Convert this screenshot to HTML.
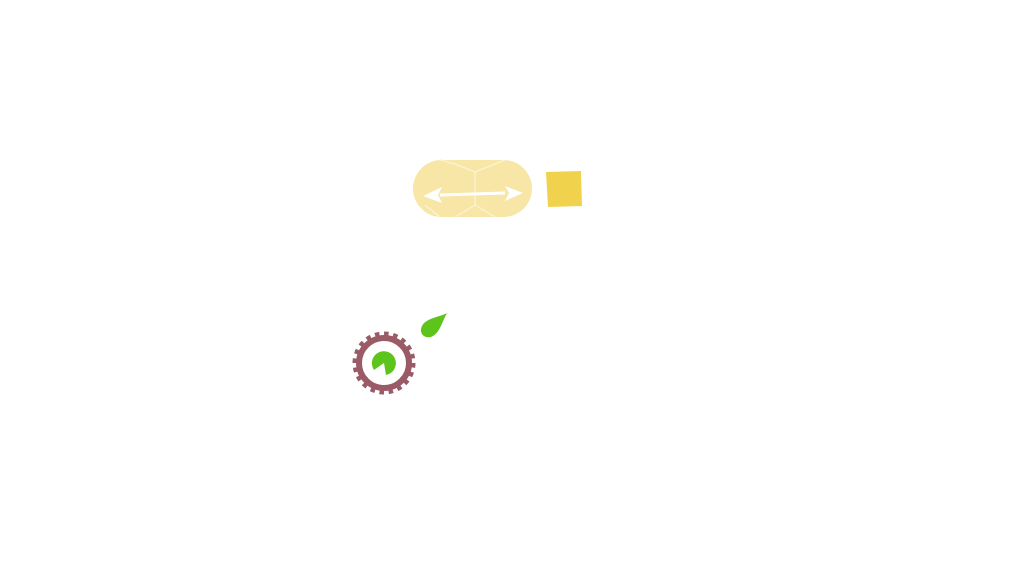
<!DOCTYPE html>
<html><head><style>body{margin:0;background:#fff;width:1024px;height:576px;overflow:hidden}</style></head>
<body>
<svg width="1024" height="576" viewBox="0 0 1024 576">
<rect x="413" y="160" width="119" height="57" rx="28.5" fill="#f7e6a6"/>
<g stroke="#fbf1cc" stroke-width="1.5" fill="none">
<path d="M440 160 L455 164 L475 172 L495 164 L505 160"/>
<path d="M475 172 L475 205 L455 217"/>
<path d="M475 205 L495 217"/>
<path d="M425 205 L440 217"/>
</g>
<path d="M440 195 L505 193" stroke="#fff" stroke-width="3"/>
<polygon points="423,196 442,187 438,195 442,203" fill="#fff"/>
<polygon points="523,193 505,186 509,193 505,201" fill="#fff"/>
<polygon points="546,172 581,171 582,206 548,207" fill="#f1d24c"/>
<circle cx="384" cy="363" r="25" fill="none" stroke="#9a5b67" stroke-width="6"/>
<circle cx="384" cy="363" r="29" fill="none" stroke="#9a5b67" stroke-width="5" stroke-dasharray="4.5 4.6"/>
<path d="M384 363 L374 370 A12 12 0 1 1 386 375 Z" fill="#5cc41a"/>
<path d="M447 313 C440 317 426 318 422 326 C418 334 426 340 433 336 C440 332 442 322 447 313 Z" fill="#5cc41a"/>
</svg>
</body></html>
